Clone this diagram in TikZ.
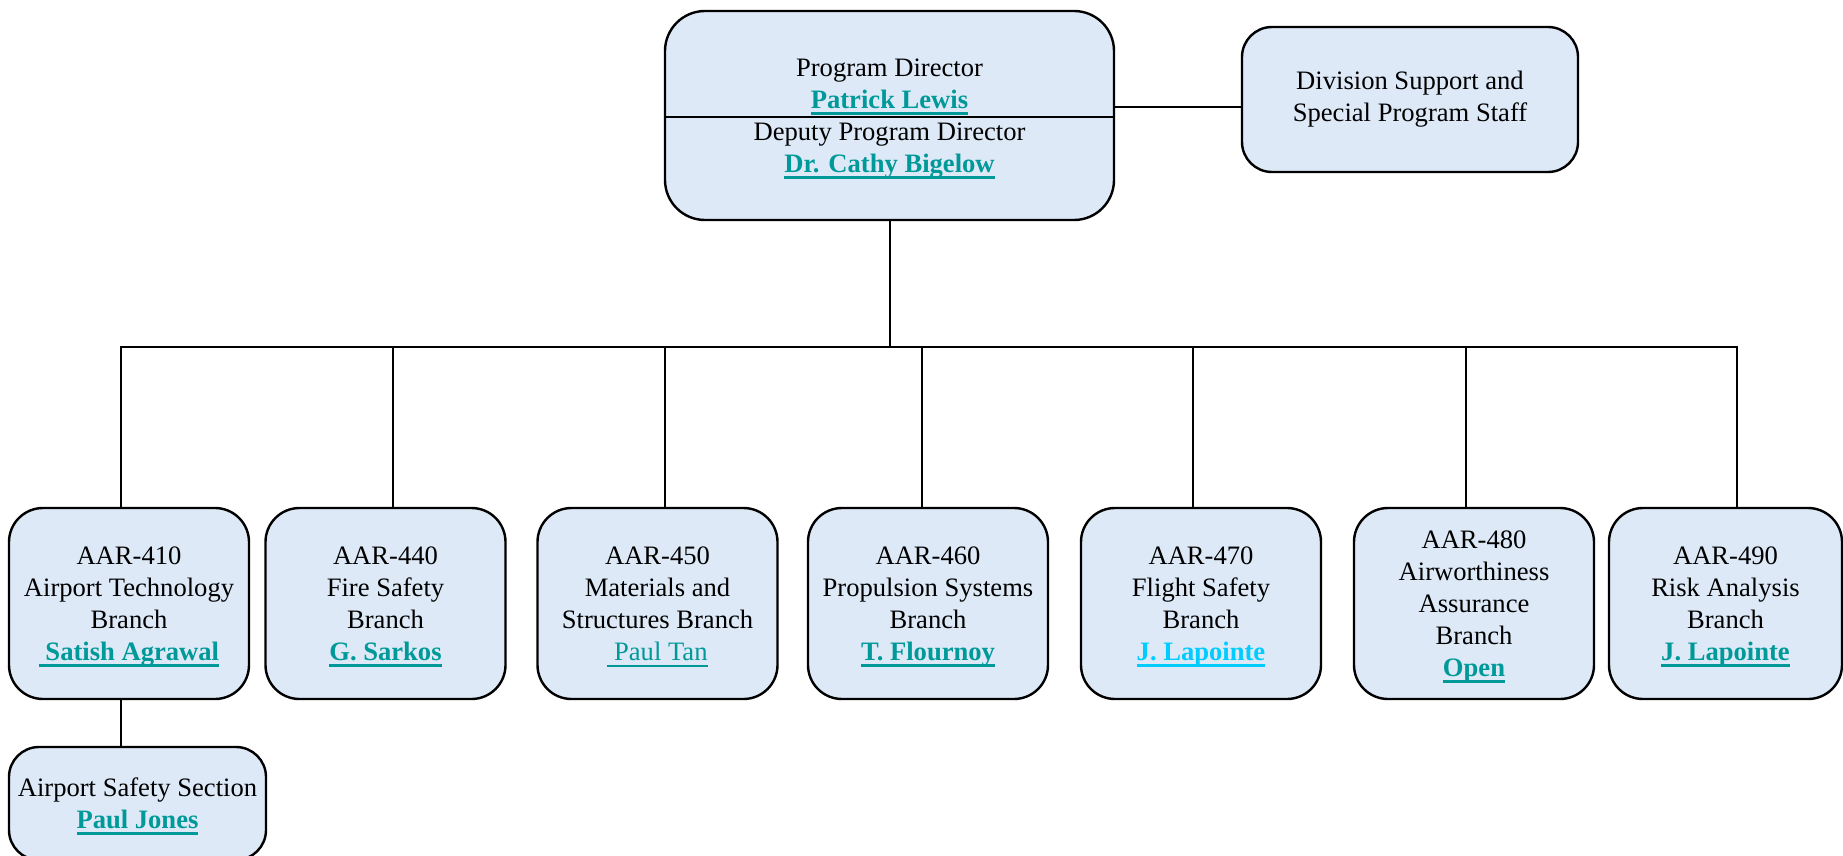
\documentclass[tikz,border=0pt]{standalone}
\usepackage{fontspec}
\setmainfont{Liberation Serif}
\usepackage{xcolor}
\usetikzlibrary{positioning}
\definecolor{boxfill}{RGB}{221,233,247}
\definecolor{nameteal}{RGB}{0,153,153}
\definecolor{namecyan}{RGB}{0,204,255}
\newcommand{\ulname}[2]{\smash{\setbox0\hbox{#1}\rlap{\rule[-3.2pt]{\wd0}{#2}}\box0}}
\newcommand{\who}[2][nameteal]{\textcolor{#1}{\ulname{\textbf{#2}}{1.5pt}}}
\newcommand{\whoplain}[1]{\textcolor{nameteal}{\ulname{#1}{1pt}}}

\begin{document}
\begin{tikzpicture}[x=0.5pt, y=-0.5pt,
  every unit/.style={draw, line width=1.2pt, fill=boxfill, rounded corners=17pt,
    align=center, inner sep=0pt, font=\fontsize{13.3}{16}\selectfont},
  branch/.style={every unit, minimum height=95.5pt},
  link/.style={line width=1pt}]

\useasboundingbox (0,0) rectangle (1843,856);

\node [every unit, minimum width=224.5pt, minimum height=104.5pt, rounded corners=20pt]
  (director) at (889.5,115.5)
  {Program Director\\\who{Patrick Lewis}\\Deputy Program Director\\\who{Dr. Cathy Bigelow}};
\draw [link] ([yshift=-1pt]director.west) -- ([yshift=-1pt]director.east);

\node [every unit, minimum width=168pt, minimum height=72.5pt, rounded corners=15pt]
  (staff) at (1410,99.5) {Division Support and\\Special Program Staff};
\draw [link] (director.east |- 0,107) -- (staff.west |- 0,107);

\coordinate (bus) at (director.south |- 0,347);
\draw [link] (director.south) -- (bus);

\foreach \cx/\w/\txt [count=\i] in {
  129/120/{AAR-410\\Airport Technology\\Branch\\\who{\ Satish Agrawal}},
  385.5/120/{AAR-440\\Fire Safety\\Branch\\\who{G. Sarkos}},
  657.5/120/{AAR-450\\Materials and\\Structures Branch\\\whoplain{\ Paul Tan}},
  928/120/{AAR-460\\Propulsion Systems\\Branch\\\who{T. Flournoy}},
  1201/120/{AAR-470\\Flight Safety\\Branch\\\who[namecyan]{J. Lapointe}},
  1474/120/{AAR-480\\Airworthiness\\Assurance\\Branch\\\who{Open}},
  1725.5/116.5/{AAR-490\\Risk Analysis\\Branch\\\who{J. Lapointe}}}
  \node [branch, minimum width=\w pt] (branch-\i) at (\cx,603.5) {\txt};

\foreach \lx [count=\i] in {121,393,665,922,1193,1466,1737}
  \draw [link] (branch-\i.north -| \lx,0) |- (bus);

\node [every unit, minimum width=128.5pt, minimum height=56.5pt, rounded corners=15pt]
  (section) at (137.5,803.5) {Airport Safety Section\\\who{Paul Jones}};
\draw [link] (branch-1.south -| 121,0) -- (section.north -| 121,0);
\end{tikzpicture}
\end{document}
